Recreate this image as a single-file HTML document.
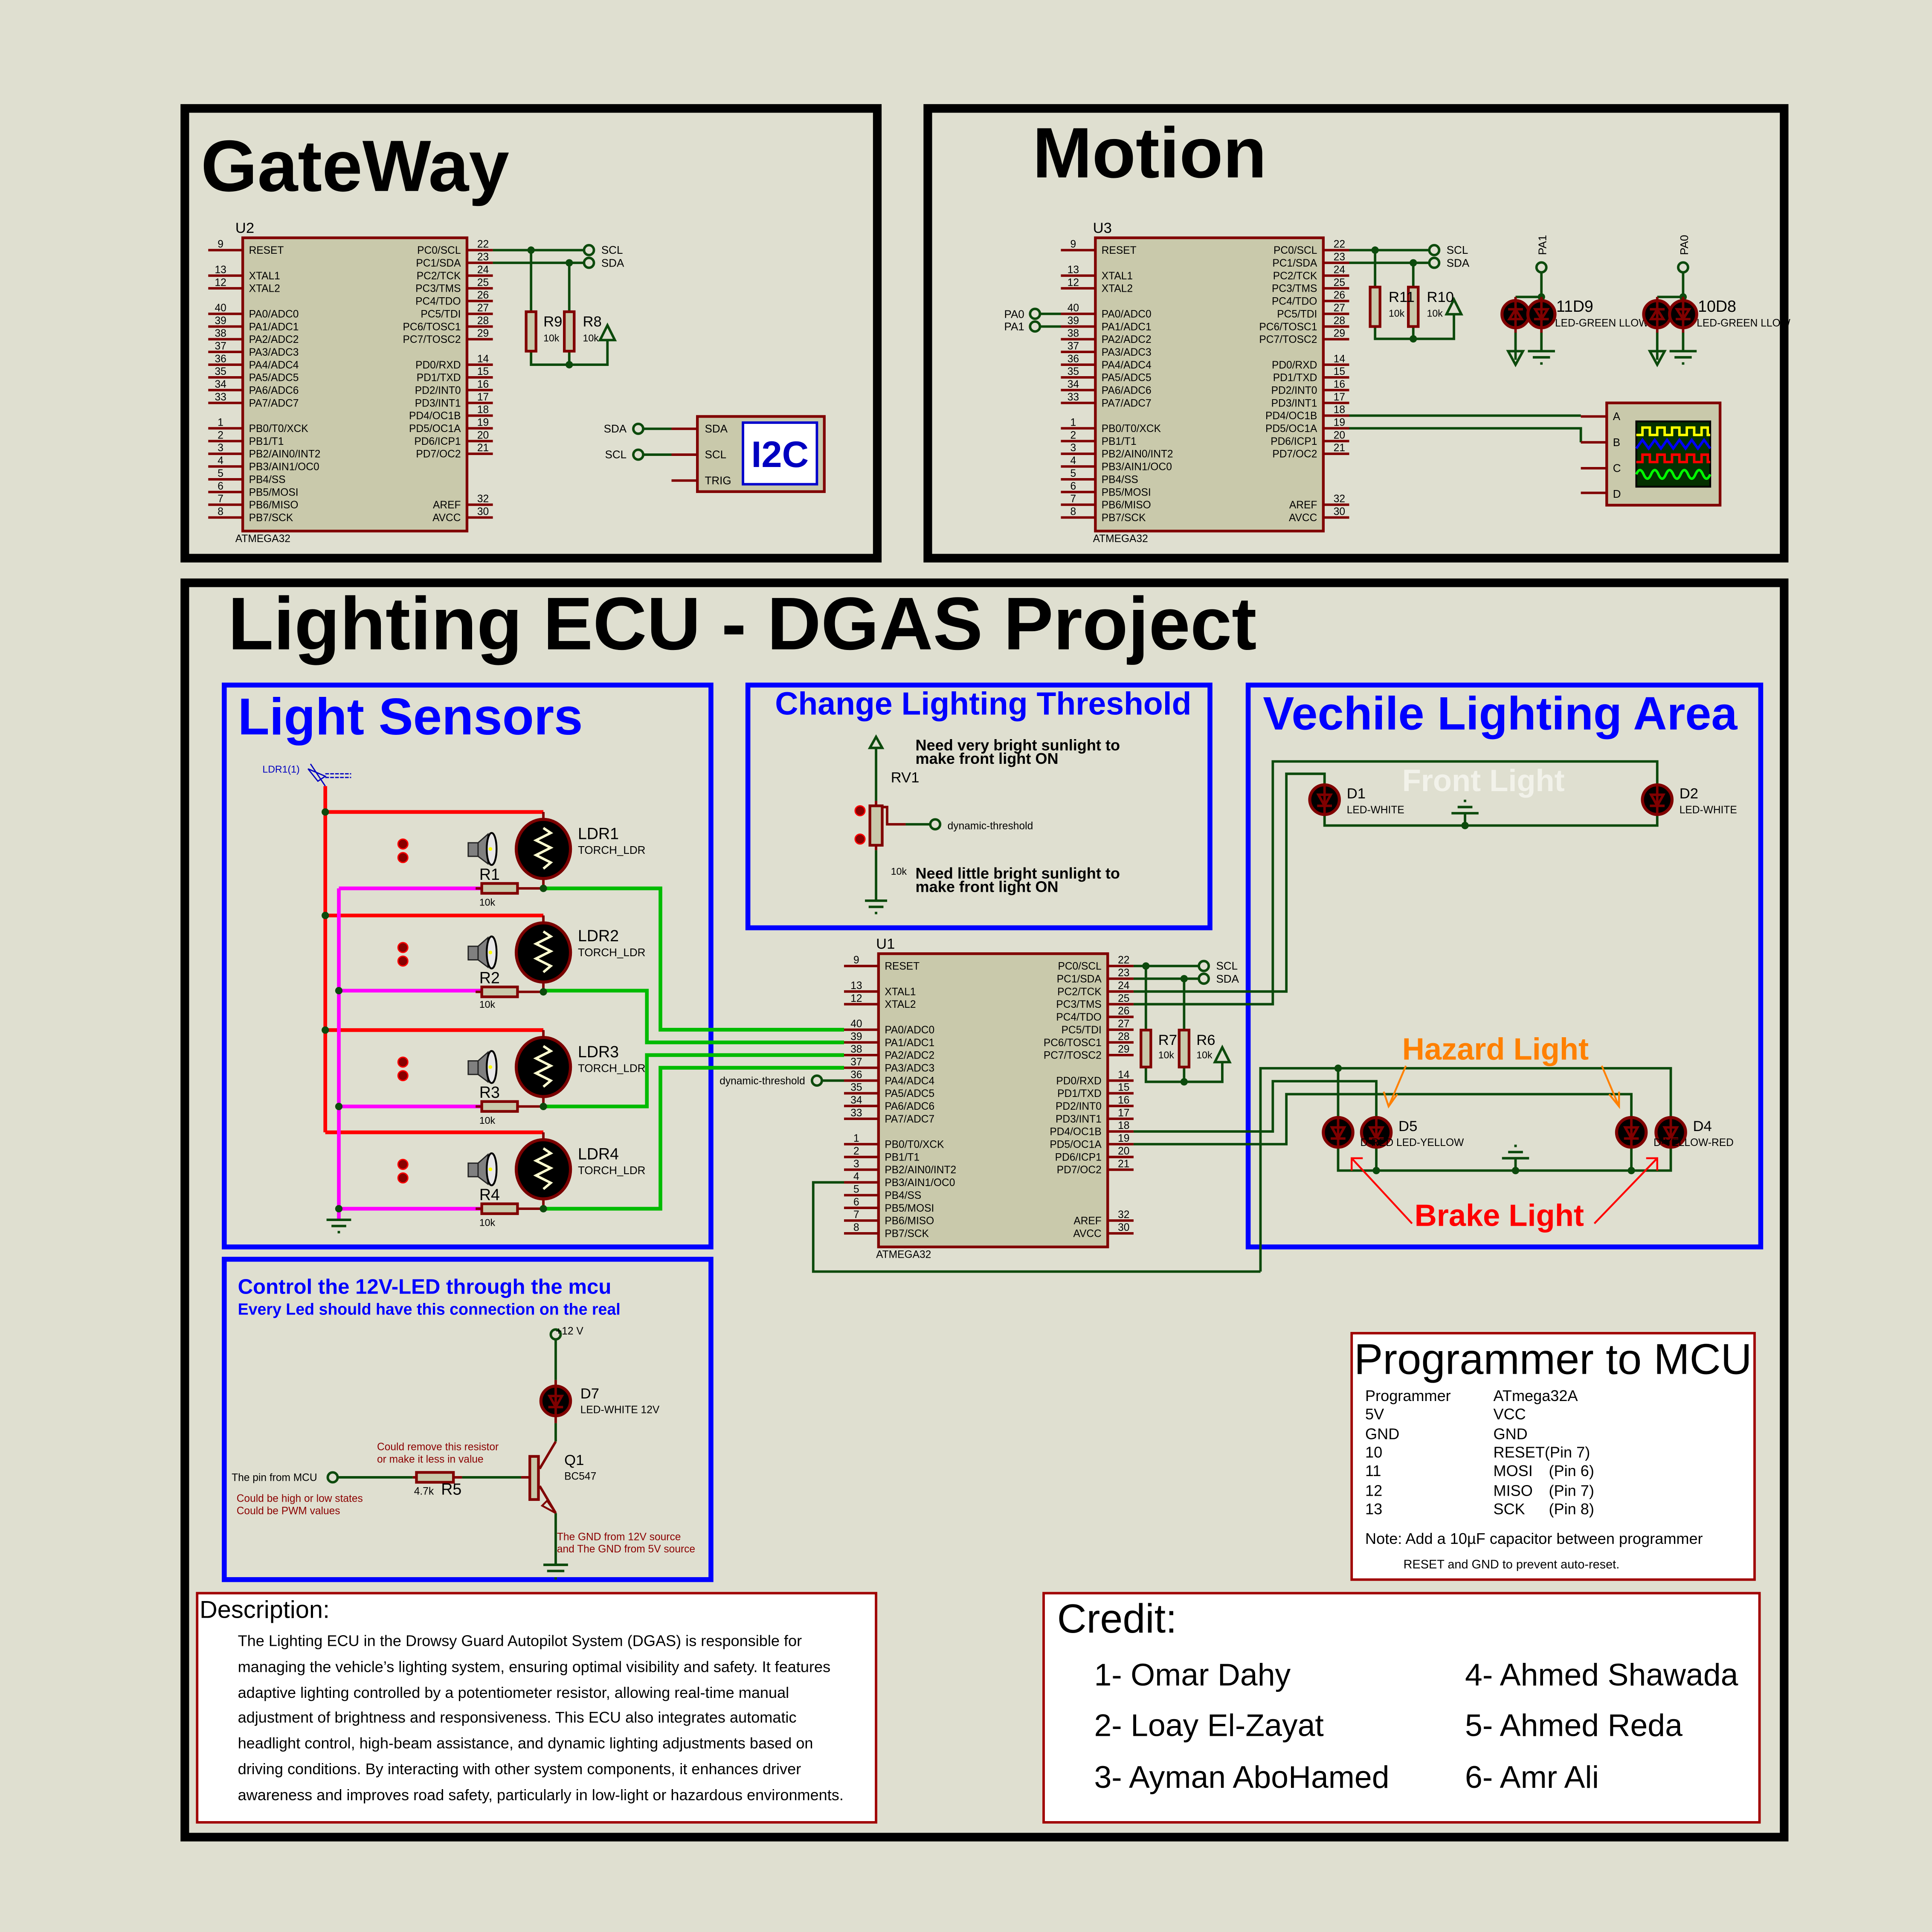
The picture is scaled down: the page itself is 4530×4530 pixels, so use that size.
<!DOCTYPE html>
<html><head><meta charset="utf-8"><style>
html,body{margin:0;padding:0;background:#dfdfd0}
svg{display:block}
text{font-family:"Liberation Sans",sans-serif}
.n{font-family:"Liberation Sans Narrow","Liberation Sans",sans-serif}
.p{stroke:#800000;stroke-width:2;fill:none}
.w{stroke:#0c4a0c;stroke-width:2;fill:none}
.body{fill:#c9c9ab;stroke:#800000;stroke-width:2.2}
</style></head><body>
<svg width="4530" height="4530" viewBox="0 0 1568 1568" xmlns="http://www.w3.org/2000/svg">
<rect width="1568" height="1568" fill="#dfdfd0"/>
<rect x="150" y="88" width="562" height="365" fill="none" stroke="#000" stroke-width="7"/>
<rect x="753" y="88" width="695" height="365" fill="none" stroke="#000" stroke-width="7"/>
<rect x="150" y="473" width="1298" height="1018" fill="none" stroke="#000" stroke-width="7"/>
<text x="163" y="155" font-size="59" font-weight="bold">GateWay</text>
<text x="838" y="144" font-size="58" font-weight="bold">Motion</text>
<text x="185" y="527" font-size="60.6" font-weight="bold">Lighting ECU - DGAS Project</text>

<g transform="translate(197,193)" class="n">
<rect class="body" x="0" y="0" width="182" height="238"/>
<path class="p" stroke-width="2.5" d="M-28 10H0M-28 30.7H0M-28 41H0M-28 61.7H0M-28 72H0M-28 82.3H0M-28 92.6H0M-28 103H0M-28 113.3H0M-28 123.6H0M-28 134H0M-28 154.6H0M-28 165H0M-28 175.3H0M-28 185.6H0M-28 196H0M-28 206.3H0M-28 216.6H0M-28 227H0M182 10H203M182 20.3H203M182 30.7H203M182 41H203M182 51.3H203M182 61.7H203M182 72H203M182 82.3H203M182 103H203M182 113.3H203M182 123.6H203M182 134H203M182 144.3H203M182 154.6H203M182 165H203M182 175.3H203M182 216.6H203M182 227H203"/>
<text font-size="8.5" x="5"><tspan x="5" y="13">RESET</tspan><tspan x="5" y="33.7">XTAL1</tspan><tspan x="5" y="44">XTAL2</tspan><tspan x="5" y="64.7">PA0/ADC0</tspan><tspan x="5" y="75">PA1/ADC1</tspan><tspan x="5" y="85.3">PA2/ADC2</tspan><tspan x="5" y="95.6">PA3/ADC3</tspan><tspan x="5" y="106">PA4/ADC4</tspan><tspan x="5" y="116.3">PA5/ADC5</tspan><tspan x="5" y="126.6">PA6/ADC6</tspan><tspan x="5" y="137">PA7/ADC7</tspan><tspan x="5" y="157.6">PB0/T0/XCK</tspan><tspan x="5" y="168">PB1/T1</tspan><tspan x="5" y="178.3">PB2/AIN0/INT2</tspan><tspan x="5" y="188.6">PB3/AIN1/OC0</tspan><tspan x="5" y="199">PB4/SS</tspan><tspan x="5" y="209.3">PB5/MOSI</tspan><tspan x="5" y="219.6">PB6/MISO</tspan><tspan x="5" y="230">PB7/SCK</tspan></text>
<text font-size="8.5" text-anchor="end"><tspan x="177" y="13">PC0/SCL</tspan><tspan x="177" y="23.3">PC1/SDA</tspan><tspan x="177" y="33.7">PC2/TCK</tspan><tspan x="177" y="44">PC3/TMS</tspan><tspan x="177" y="54.3">PC4/TDO</tspan><tspan x="177" y="64.7">PC5/TDI</tspan><tspan x="177" y="75">PC6/TOSC1</tspan><tspan x="177" y="85.3">PC7/TOSC2</tspan><tspan x="177" y="106">PD0/RXD</tspan><tspan x="177" y="116.3">PD1/TXD</tspan><tspan x="177" y="126.6">PD2/INT0</tspan><tspan x="177" y="137">PD3/INT1</tspan><tspan x="177" y="147.3">PD4/OC1B</tspan><tspan x="177" y="157.6">PD5/OC1A</tspan><tspan x="177" y="168">PD6/ICP1</tspan><tspan x="177" y="178.3">PD7/OC2</tspan><tspan x="177" y="219.6">AREF</tspan><tspan x="177" y="230">AVCC</tspan></text>
<text font-size="8.5" text-anchor="middle"><tspan x="-18" y="8">9</tspan><tspan x="-18" y="28.7">13</tspan><tspan x="-18" y="39">12</tspan><tspan x="-18" y="59.7">40</tspan><tspan x="-18" y="70">39</tspan><tspan x="-18" y="80.3">38</tspan><tspan x="-18" y="90.6">37</tspan><tspan x="-18" y="101">36</tspan><tspan x="-18" y="111.3">35</tspan><tspan x="-18" y="121.6">34</tspan><tspan x="-18" y="132">33</tspan><tspan x="-18" y="152.6">1</tspan><tspan x="-18" y="163">2</tspan><tspan x="-18" y="173.3">3</tspan><tspan x="-18" y="183.6">4</tspan><tspan x="-18" y="194">5</tspan><tspan x="-18" y="204.3">6</tspan><tspan x="-18" y="214.6">7</tspan><tspan x="-18" y="225">8</tspan></text>
<text font-size="8.5" text-anchor="middle"><tspan x="195" y="8">22</tspan><tspan x="195" y="18.3">23</tspan><tspan x="195" y="28.7">24</tspan><tspan x="195" y="39">25</tspan><tspan x="195" y="49.3">26</tspan><tspan x="195" y="59.7">27</tspan><tspan x="195" y="70">28</tspan><tspan x="195" y="80.3">29</tspan><tspan x="195" y="101">14</tspan><tspan x="195" y="111.3">15</tspan><tspan x="195" y="121.6">16</tspan><tspan x="195" y="132">17</tspan><tspan x="195" y="142.3">18</tspan><tspan x="195" y="152.6">19</tspan><tspan x="195" y="163">20</tspan><tspan x="195" y="173.3">21</tspan><tspan x="195" y="214.6">32</tspan><tspan x="195" y="225">30</tspan></text>
<text font-size="12" x="-6" y="-4">U2</text>
<text font-size="8.5" x="-6" y="247">ATMEGA32</text>
</g>

<g transform="translate(889,193)" class="n">
<rect class="body" x="0" y="0" width="185" height="238"/>
<path class="p" stroke-width="2.5" d="M-28 10H0M-28 30.7H0M-28 41H0M-28 61.7H0M-28 72H0M-28 82.3H0M-28 92.6H0M-28 103H0M-28 113.3H0M-28 123.6H0M-28 134H0M-28 154.6H0M-28 165H0M-28 175.3H0M-28 185.6H0M-28 196H0M-28 206.3H0M-28 216.6H0M-28 227H0M185 10H206M185 20.3H206M185 30.7H206M185 41H206M185 51.3H206M185 61.7H206M185 72H206M185 82.3H206M185 103H206M185 113.3H206M185 123.6H206M185 134H206M185 144.3H206M185 154.6H206M185 165H206M185 175.3H206M185 216.6H206M185 227H206"/>
<text font-size="8.5"><tspan x="5" y="13">RESET</tspan><tspan x="5" y="33.7">XTAL1</tspan><tspan x="5" y="44">XTAL2</tspan><tspan x="5" y="64.7">PA0/ADC0</tspan><tspan x="5" y="75">PA1/ADC1</tspan><tspan x="5" y="85.3">PA2/ADC2</tspan><tspan x="5" y="95.6">PA3/ADC3</tspan><tspan x="5" y="106">PA4/ADC4</tspan><tspan x="5" y="116.3">PA5/ADC5</tspan><tspan x="5" y="126.6">PA6/ADC6</tspan><tspan x="5" y="137">PA7/ADC7</tspan><tspan x="5" y="157.6">PB0/T0/XCK</tspan><tspan x="5" y="168">PB1/T1</tspan><tspan x="5" y="178.3">PB2/AIN0/INT2</tspan><tspan x="5" y="188.6">PB3/AIN1/OC0</tspan><tspan x="5" y="199">PB4/SS</tspan><tspan x="5" y="209.3">PB5/MOSI</tspan><tspan x="5" y="219.6">PB6/MISO</tspan><tspan x="5" y="230">PB7/SCK</tspan></text>
<text font-size="8.5" text-anchor="end"><tspan x="180" y="13">PC0/SCL</tspan><tspan x="180" y="23.3">PC1/SDA</tspan><tspan x="180" y="33.7">PC2/TCK</tspan><tspan x="180" y="44">PC3/TMS</tspan><tspan x="180" y="54.3">PC4/TDO</tspan><tspan x="180" y="64.7">PC5/TDI</tspan><tspan x="180" y="75">PC6/TOSC1</tspan><tspan x="180" y="85.3">PC7/TOSC2</tspan><tspan x="180" y="106">PD0/RXD</tspan><tspan x="180" y="116.3">PD1/TXD</tspan><tspan x="180" y="126.6">PD2/INT0</tspan><tspan x="180" y="137">PD3/INT1</tspan><tspan x="180" y="147.3">PD4/OC1B</tspan><tspan x="180" y="157.6">PD5/OC1A</tspan><tspan x="180" y="168">PD6/ICP1</tspan><tspan x="180" y="178.3">PD7/OC2</tspan><tspan x="180" y="219.6">AREF</tspan><tspan x="180" y="230">AVCC</tspan></text>
<text font-size="8.5" text-anchor="middle"><tspan x="-18" y="8">9</tspan><tspan x="-18" y="28.7">13</tspan><tspan x="-18" y="39">12</tspan><tspan x="-18" y="59.7">40</tspan><tspan x="-18" y="70">39</tspan><tspan x="-18" y="80.3">38</tspan><tspan x="-18" y="90.6">37</tspan><tspan x="-18" y="101">36</tspan><tspan x="-18" y="111.3">35</tspan><tspan x="-18" y="121.6">34</tspan><tspan x="-18" y="132">33</tspan><tspan x="-18" y="152.6">1</tspan><tspan x="-18" y="163">2</tspan><tspan x="-18" y="173.3">3</tspan><tspan x="-18" y="183.6">4</tspan><tspan x="-18" y="194">5</tspan><tspan x="-18" y="204.3">6</tspan><tspan x="-18" y="214.6">7</tspan><tspan x="-18" y="225">8</tspan></text>
<text font-size="8.5" text-anchor="middle"><tspan x="198" y="8">22</tspan><tspan x="198" y="18.3">23</tspan><tspan x="198" y="28.7">24</tspan><tspan x="198" y="39">25</tspan><tspan x="198" y="49.3">26</tspan><tspan x="198" y="59.7">27</tspan><tspan x="198" y="70">28</tspan><tspan x="198" y="80.3">29</tspan><tspan x="198" y="101">14</tspan><tspan x="198" y="111.3">15</tspan><tspan x="198" y="121.6">16</tspan><tspan x="198" y="132">17</tspan><tspan x="198" y="142.3">18</tspan><tspan x="198" y="152.6">19</tspan><tspan x="198" y="163">20</tspan><tspan x="198" y="173.3">21</tspan><tspan x="198" y="214.6">32</tspan><tspan x="198" y="225">30</tspan></text>
<text font-size="12" x="-2" y="-4">U3</text>
<text font-size="8.5" x="-2" y="247">ATMEGA32</text>
</g>

<g transform="translate(713,774)" class="n">
<rect class="body" x="0" y="0" width="186" height="238"/>
<path class="p" stroke-width="2.5" d="M-28 10H0M-28 30.7H0M-28 41H0M-28 61.7H0M-28 72H0M-28 82.3H0M-28 92.6H0M-28 103H0M-28 113.3H0M-28 123.6H0M-28 134H0M-28 154.6H0M-28 165H0M-28 175.3H0M-28 185.6H0M-28 196H0M-28 206.3H0M-28 216.6H0M-28 227H0M186 10H207M186 20.3H207M186 30.7H207M186 41H207M186 51.3H207M186 61.7H207M186 72H207M186 82.3H207M186 103H207M186 113.3H207M186 123.6H207M186 134H207M186 144.3H207M186 154.6H207M186 165H207M186 175.3H207M186 216.6H207M186 227H207"/>
<text font-size="8.5"><tspan x="5" y="13">RESET</tspan><tspan x="5" y="33.7">XTAL1</tspan><tspan x="5" y="44">XTAL2</tspan><tspan x="5" y="64.7">PA0/ADC0</tspan><tspan x="5" y="75">PA1/ADC1</tspan><tspan x="5" y="85.3">PA2/ADC2</tspan><tspan x="5" y="95.6">PA3/ADC3</tspan><tspan x="5" y="106">PA4/ADC4</tspan><tspan x="5" y="116.3">PA5/ADC5</tspan><tspan x="5" y="126.6">PA6/ADC6</tspan><tspan x="5" y="137">PA7/ADC7</tspan><tspan x="5" y="157.6">PB0/T0/XCK</tspan><tspan x="5" y="168">PB1/T1</tspan><tspan x="5" y="178.3">PB2/AIN0/INT2</tspan><tspan x="5" y="188.6">PB3/AIN1/OC0</tspan><tspan x="5" y="199">PB4/SS</tspan><tspan x="5" y="209.3">PB5/MOSI</tspan><tspan x="5" y="219.6">PB6/MISO</tspan><tspan x="5" y="230">PB7/SCK</tspan></text>
<text font-size="8.5" text-anchor="end"><tspan x="181" y="13">PC0/SCL</tspan><tspan x="181" y="23.3">PC1/SDA</tspan><tspan x="181" y="33.7">PC2/TCK</tspan><tspan x="181" y="44">PC3/TMS</tspan><tspan x="181" y="54.3">PC4/TDO</tspan><tspan x="181" y="64.7">PC5/TDI</tspan><tspan x="181" y="75">PC6/TOSC1</tspan><tspan x="181" y="85.3">PC7/TOSC2</tspan><tspan x="181" y="106">PD0/RXD</tspan><tspan x="181" y="116.3">PD1/TXD</tspan><tspan x="181" y="126.6">PD2/INT0</tspan><tspan x="181" y="137">PD3/INT1</tspan><tspan x="181" y="147.3">PD4/OC1B</tspan><tspan x="181" y="157.6">PD5/OC1A</tspan><tspan x="181" y="168">PD6/ICP1</tspan><tspan x="181" y="178.3">PD7/OC2</tspan><tspan x="181" y="219.6">AREF</tspan><tspan x="181" y="230">AVCC</tspan></text>
<text font-size="8.5" text-anchor="middle"><tspan x="-18" y="8">9</tspan><tspan x="-18" y="28.7">13</tspan><tspan x="-18" y="39">12</tspan><tspan x="-18" y="59.7">40</tspan><tspan x="-18" y="70">39</tspan><tspan x="-18" y="80.3">38</tspan><tspan x="-18" y="90.6">37</tspan><tspan x="-18" y="101">36</tspan><tspan x="-18" y="111.3">35</tspan><tspan x="-18" y="121.6">34</tspan><tspan x="-18" y="132">33</tspan><tspan x="-18" y="152.6">1</tspan><tspan x="-18" y="163">2</tspan><tspan x="-18" y="173.3">3</tspan><tspan x="-18" y="183.6">4</tspan><tspan x="-18" y="194">5</tspan><tspan x="-18" y="204.3">6</tspan><tspan x="-18" y="214.6">7</tspan><tspan x="-18" y="225">8</tspan></text>
<text font-size="8.5" text-anchor="middle"><tspan x="199" y="8">22</tspan><tspan x="199" y="18.3">23</tspan><tspan x="199" y="28.7">24</tspan><tspan x="199" y="39">25</tspan><tspan x="199" y="49.3">26</tspan><tspan x="199" y="59.7">27</tspan><tspan x="199" y="70">28</tspan><tspan x="199" y="80.3">29</tspan><tspan x="199" y="101">14</tspan><tspan x="199" y="111.3">15</tspan><tspan x="199" y="121.6">16</tspan><tspan x="199" y="132">17</tspan><tspan x="199" y="142.3">18</tspan><tspan x="199" y="152.6">19</tspan><tspan x="199" y="163">20</tspan><tspan x="199" y="173.3">21</tspan><tspan x="199" y="214.6">32</tspan><tspan x="199" y="225">30</tspan></text>
<text font-size="12" x="-2" y="-4">U1</text>
<text font-size="8.5" x="-2" y="247">ATMEGA32</text>
</g>

<g class="n">
<path class="w" d="M400 203H474M400 213.3H474M431 203V253M462 213.3V253M431 285V296H493V276M462 285V296"/>
<path class="w" d="M487 276L493 264L499 276Z"/>
<circle cx="478" cy="203" r="4" fill="none" stroke="#0c4a0c" stroke-width="2"/>
<circle cx="478" cy="213.3" r="4" fill="none" stroke="#0c4a0c" stroke-width="2"/>
<circle cx="431" cy="203" r="3" fill="#0c4a0c"/><circle cx="462" cy="213.3" r="3" fill="#0c4a0c"/><circle cx="462" cy="296" r="3" fill="#0c4a0c"/>
<rect x="427" y="253" width="8" height="32" class="body"/><rect x="458" y="253" width="8" height="32" class="body"/>
<text font-size="12" x="441" y="265">R9</text><text font-size="8" x="441" y="277">10k</text>
<text font-size="12" x="473" y="265">R8</text><text font-size="8" x="473" y="277">10k</text>
<text font-size="9" x="488" y="206">SCL</text><text font-size="9" x="488" y="216.5">SDA</text>
<path class="w" d="M522 348H545M522 369H545"/>
<circle cx="518" cy="348" r="4" fill="none" stroke="#0c4a0c" stroke-width="2"/>
<circle cx="518" cy="369" r="4" fill="none" stroke="#0c4a0c" stroke-width="2"/>
<text font-size="9" x="490" y="351">SDA</text><text font-size="9" x="491" y="372">SCL</text>
<path class="p" d="M545 348H566M545 369H566M545 390H566"/>
<rect x="566" y="338" width="103" height="61" class="body"/>
<rect x="603" y="343" width="60" height="50" fill="#fff" stroke="#0000cc" stroke-width="2"/>
<text x="633" y="379" font-size="30" font-weight="bold" fill="#0000c0" text-anchor="middle" font-family="Liberation Sans">I2C</text>
<text font-size="9" x="572" y="351">SDA</text><text font-size="9" x="572" y="372">SCL</text><text font-size="9" x="572" y="393">TRIG</text>
</g>

<g class="n">
<path class="w" d="M1095 203H1160M1095 213.3H1160M1116 203V233M1147 213.3V233M1116 265V275H1180V255M1147 265V275"/>
<path class="w" d="M1174 255L1180 243L1186 255Z"/>
<circle cx="1164" cy="203" r="4" fill="none" stroke="#0c4a0c" stroke-width="2"/>
<circle cx="1164" cy="213.3" r="4" fill="none" stroke="#0c4a0c" stroke-width="2"/>
<circle cx="1116" cy="203" r="3" fill="#0c4a0c"/><circle cx="1147" cy="213.3" r="3" fill="#0c4a0c"/><circle cx="1147" cy="275" r="3" fill="#0c4a0c"/>
<rect x="1112" y="233" width="8" height="32" class="body"/><rect x="1143" y="233" width="8" height="32" class="body"/>
<text font-size="12" x="1127" y="245">R11</text><text font-size="8" x="1127" y="257">10k</text>
<text font-size="12" x="1158" y="245">R10</text><text font-size="8" x="1158" y="257">10k</text>
<text font-size="9" x="1174" y="206">SCL</text><text font-size="9" x="1174" y="216.5">SDA</text>
<path class="w" d="M844 254.7H861M844 265H861"/>
<circle cx="840" cy="254.7" r="4" fill="none" stroke="#0c4a0c" stroke-width="2"/>
<circle cx="840" cy="265" r="4" fill="none" stroke="#0c4a0c" stroke-width="2"/>
<text font-size="9" x="815" y="258">PA0</text><text font-size="9" x="815" y="268">PA1</text>
<g>
<path class="w" d="M1251 221V241M1230 241H1251M1230 270V292M1251 270V285M1240 285H1262M1244 290H1258M1250 295H1252"/>
<path class="w" d="M1224 285L1230 296L1236 285Z"/>
<circle cx="1251" cy="217" r="4" fill="none" stroke="#0c4a0c" stroke-width="2"/>
<circle cx="1251" cy="241" r="3" fill="#0c4a0c"/>
<circle cx="1230" cy="255" r="11" fill="#000" stroke="#800000" stroke-width="2.5"/>
<circle cx="1251" cy="255" r="11" fill="#000" stroke="#800000" stroke-width="2.5"/>
<path class="p" d="M1230 241V270M1225 259L1230 251L1235 259ZM1224 251H1236M1251 241V270M1246 251L1251 259L1256 251ZM1245 259H1257"/>
</g>
<text font-size="9" transform="translate(1255,207) rotate(-90)">PA1</text>
<text font-size="13" x="1263" y="253">11D9</text><text font-size="8.5" x="1262" y="265">LED-GREEN LLOW</text>
<g transform="translate(115,0)">
<path class="w" d="M1251 221V241M1230 241H1251M1230 270V292M1251 270V285M1240 285H1262M1244 290H1258M1250 295H1252"/>
<path class="w" d="M1224 285L1230 296L1236 285Z"/>
<circle cx="1251" cy="217" r="4" fill="none" stroke="#0c4a0c" stroke-width="2"/>
<circle cx="1251" cy="241" r="3" fill="#0c4a0c"/>
<circle cx="1230" cy="255" r="11" fill="#000" stroke="#800000" stroke-width="2.5"/>
<circle cx="1251" cy="255" r="11" fill="#000" stroke="#800000" stroke-width="2.5"/>
<path class="p" d="M1230 241V270M1225 259L1230 251L1235 259ZM1224 251H1236M1251 241V270M1246 251L1251 259L1256 251ZM1245 259H1257"/>
</g>
<text font-size="9" transform="translate(1370,207) rotate(-90)">PA0</text>
<text font-size="13" x="1378" y="253">10D8</text><text font-size="8.5" x="1377" y="265">LED-GREEN LLOW</text>
<path class="w" d="M1095 337.3H1283M1095 347.6H1283V359"/>
<path class="p" d="M1283 338H1304M1283 359H1304M1283 380H1304M1283 400H1304"/>
<rect x="1304" y="327" width="92" height="83" class="body"/>
<rect x="1328" y="342" width="60" height="53" fill="#033000" stroke="#000" stroke-width="1.5"/>
<path d="M1328 353H1333V347H1339V353H1345V347H1351V353H1357V347H1363V353H1369V347H1375V353H1381V347H1386V353H1388" stroke="#ff0" stroke-width="2" fill="none"/>
<path d="M1328 364L1333 357L1338 364L1343 357L1348 364L1353 357L1358 364L1363 357L1368 364L1373 357L1378 364L1383 357L1388 364" stroke="#00f" stroke-width="2" fill="none"/>
<path d="M1328 375H1333V369H1339V375H1345V369H1351V375H1357V369H1363V375H1369V369H1375V375H1381V369H1386V375H1388" stroke="#f00" stroke-width="2" fill="none"/>
<path d="M1328 385Q1331 378 1334 385T1340 385T1346 385T1352 385T1358 385T1364 385T1370 385T1376 385T1382 385T1388 385" stroke="#0f0" stroke-width="2" fill="none"/>
<text font-size="9" x="1309" y="341">A</text><text font-size="9" x="1309" y="362">B</text><text font-size="9" x="1309" y="383">C</text><text font-size="9" x="1309" y="404">D</text>
</g>

<g fill="none" stroke="#0000ff" stroke-width="4">
<rect x="182" y="556" width="395" height="456"/>
<rect x="607" y="556" width="375" height="197"/>
<rect x="1013" y="556" width="416" height="456"/>
<rect x="182" y="1022" width="395" height="260"/>
</g>
<text x="193" y="596" font-size="42" font-weight="bold" fill="#0000ff">Light Sensors</text>
<text x="629" y="580" font-size="26" font-weight="bold" fill="#0000ff">Change Lighting Threshold</text>
<text x="1025" y="592" font-size="38" font-weight="bold" fill="#0000ff">Vechile Lighting Area</text>
<text x="193" y="1050" font-size="17" font-weight="bold" fill="#0000ff">Control the 12V-LED through the mcu</text>
<text x="193" y="1067" font-size="13" font-weight="bold" fill="#0000ff">Every Led should have this connection on the real</text>

<g class="n">
<text x="213" y="627" font-size="8" fill="#0000c0">LDR1(1)</text>
<path d="M250 624L258 634L264 630ZM264 638L252 620" stroke="#0000c0" stroke-width="1" fill="none"/>
<path d="M264 631H285M264 628H285" stroke="#0000c0" stroke-width="1" stroke-dasharray="3,1" fill="none"/>
<path d="M264 638V919M264 659H441M264 743H441M264 836H441M264 919H441" stroke="#ff0000" stroke-width="3" fill="none"/>
<path d="M275 721V990M275 721H390M275 804H390M275 898H390M275 981H390" stroke="#ff00ff" stroke-width="3" fill="none"/>
<path d="M441 721H536V835.7H685M441 804H525V846H685M441 898H525V856.3H685M441 981H536V866.6H685" stroke="#00bb00" stroke-width="3" fill="none"/>
<path class="w" d="M265 990H285M269 995H281M274 1000H276"/>
<g>
<path class="p" d="M441 659V665M441 713V721M420 721H441"/>
<ellipse cx="441" cy="689" rx="22" ry="24" fill="#000" stroke="#7a0000" stroke-width="2.5"/>
<path d="M441 672L447 676L435 682L447 688L435 694L447 700L441 705" stroke="#ffffd0" stroke-width="2" fill="none"/>
<rect x="391" y="717" width="29" height="8" class="body"/>
<path class="p" d="M386 721H391"/>
<rect x="380" y="684" width="8" height="11" fill="#808080" stroke="#222" stroke-width="1"/>
<path d="M388 684L396 677V701L388 695Z" fill="#808080" stroke="#222" stroke-width="1"/>
<ellipse cx="399" cy="689" rx="4" ry="13" fill="#e8e8e8" stroke="#000" stroke-width="1.5"/>
<circle cx="398" cy="689" r="1.5" fill="#ff0"/>
<circle cx="327" cy="685" r="4" fill="#800" stroke="#f00" stroke-width="1"/>
<circle cx="327" cy="696" r="4" fill="#800" stroke="#f00" stroke-width="1"/>
<circle cx="441" cy="721" r="3" fill="#0c4a0c"/>
</g>
<g transform="translate(0,84)"><path class="p" d="M441 659V665M441 713V721M420 721H441"/><ellipse cx="441" cy="689" rx="22" ry="24" fill="#000" stroke="#7a0000" stroke-width="2.5"/><path d="M441 672L447 676L435 682L447 688L435 694L447 700L441 705" stroke="#ffffd0" stroke-width="2" fill="none"/><rect x="391" y="717" width="29" height="8" class="body"/><path class="p" d="M386 721H391"/><rect x="380" y="684" width="8" height="11" fill="#808080" stroke="#222" stroke-width="1"/><path d="M388 684L396 677V701L388 695Z" fill="#808080" stroke="#222" stroke-width="1"/><ellipse cx="399" cy="689" rx="4" ry="13" fill="#e8e8e8" stroke="#000" stroke-width="1.5"/><circle cx="398" cy="689" r="1.5" fill="#ff0"/><circle cx="327" cy="685" r="4" fill="#800" stroke="#f00" stroke-width="1"/><circle cx="327" cy="696" r="4" fill="#800" stroke="#f00" stroke-width="1"/><circle cx="441" cy="721" r="3" fill="#0c4a0c"/></g>
<g transform="translate(0,177)"><path class="p" d="M441 659V665M441 713V721M420 721H441"/><ellipse cx="441" cy="689" rx="22" ry="24" fill="#000" stroke="#7a0000" stroke-width="2.5"/><path d="M441 672L447 676L435 682L447 688L435 694L447 700L441 705" stroke="#ffffd0" stroke-width="2" fill="none"/><rect x="391" y="717" width="29" height="8" class="body"/><path class="p" d="M386 721H391"/><rect x="380" y="684" width="8" height="11" fill="#808080" stroke="#222" stroke-width="1"/><path d="M388 684L396 677V701L388 695Z" fill="#808080" stroke="#222" stroke-width="1"/><ellipse cx="399" cy="689" rx="4" ry="13" fill="#e8e8e8" stroke="#000" stroke-width="1.5"/><circle cx="398" cy="689" r="1.5" fill="#ff0"/><circle cx="327" cy="685" r="4" fill="#800" stroke="#f00" stroke-width="1"/><circle cx="327" cy="696" r="4" fill="#800" stroke="#f00" stroke-width="1"/><circle cx="441" cy="721" r="3" fill="#0c4a0c"/></g>
<g transform="translate(0,260)"><path class="p" d="M441 659V665M441 713V721M420 721H441"/><ellipse cx="441" cy="689" rx="22" ry="24" fill="#000" stroke="#7a0000" stroke-width="2.5"/><path d="M441 672L447 676L435 682L447 688L435 694L447 700L441 705" stroke="#ffffd0" stroke-width="2" fill="none"/><rect x="391" y="717" width="29" height="8" class="body"/><path class="p" d="M386 721H391"/><rect x="380" y="684" width="8" height="11" fill="#808080" stroke="#222" stroke-width="1"/><path d="M388 684L396 677V701L388 695Z" fill="#808080" stroke="#222" stroke-width="1"/><ellipse cx="399" cy="689" rx="4" ry="13" fill="#e8e8e8" stroke="#000" stroke-width="1.5"/><circle cx="398" cy="689" r="1.5" fill="#ff0"/><circle cx="327" cy="685" r="4" fill="#800" stroke="#f00" stroke-width="1"/><circle cx="327" cy="696" r="4" fill="#800" stroke="#f00" stroke-width="1"/><circle cx="441" cy="721" r="3" fill="#0c4a0c"/></g>
<g fill="#0c4a0c"><circle cx="264" cy="659" r="3"/><circle cx="264" cy="743" r="3"/><circle cx="264" cy="836" r="3"/><circle cx="275" cy="804" r="3"/><circle cx="275" cy="898" r="3"/><circle cx="275" cy="981" r="3"/></g>
<text font-size="13" x="469" y="681">LDR1</text><text font-size="9" x="469" y="693">TORCH_LDR</text>
<text font-size="13" x="469" y="764">LDR2</text><text font-size="9" x="469" y="776">TORCH_LDR</text>
<text font-size="13" x="469" y="858">LDR3</text><text font-size="9" x="469" y="870">TORCH_LDR</text>
<text font-size="13" x="469" y="941">LDR4</text><text font-size="9" x="469" y="953">TORCH_LDR</text>
<text font-size="13" x="389" y="714">R1</text><text font-size="8" x="389" y="735">10k</text>
<text font-size="13" x="389" y="798">R2</text><text font-size="8" x="389" y="818">10k</text>
<text font-size="13" x="389" y="891">R3</text><text font-size="8" x="389" y="912">10k</text>
<text font-size="13" x="389" y="974">R4</text><text font-size="8" x="389" y="995">10k</text>
</g>

<g class="n">
<path class="w" d="M711 607V650M711 690V730M702 731H720M705 736H717M710 741H712"/>
<path class="w" d="M706 607L711 598L716 607Z"/>
<path class="p" d="M711 650V654M711 686V690M717 655H720V669H735"/>
<rect x="706" y="654" width="10" height="32" class="body"/>
<path class="w" d="M735 669H755"/>
<circle cx="759" cy="669" r="4" fill="none" stroke="#0c4a0c" stroke-width="2"/>
<circle cx="698" cy="658" r="4" fill="#800" stroke="#f00"/><circle cx="698" cy="681" r="4" fill="#800" stroke="#f00"/>
<text font-size="8.5" x="769" y="673">dynamic-threshold</text>
<text font-size="12" x="723" y="635">RV1</text>
<text font-size="8" x="723" y="710">10k</text>
<text font-size="12.5" font-weight="bold" x="743" y="609">Need very bright sunlight to</text>
<text font-size="12.5" font-weight="bold" x="743" y="620">make front light ON</text>
<text font-size="12.5" font-weight="bold" x="743" y="713">Need little bright sunlight to</text>
<text font-size="12.5" font-weight="bold" x="743" y="724">make front light ON</text>
</g>

<g class="n">
<path class="w" d="M920 784H973M920 794.3H973M930 784V836M961 794.3V836M930 866V878H992V862M961 866V878"/>
<path class="w" d="M986 862L992 850L998 862Z"/>
<circle cx="977" cy="784" r="4" fill="none" stroke="#0c4a0c" stroke-width="2"/>
<circle cx="977" cy="794.3" r="4" fill="none" stroke="#0c4a0c" stroke-width="2"/>
<circle cx="930" cy="784" r="3" fill="#0c4a0c"/><circle cx="961" cy="794.3" r="3" fill="#0c4a0c"/><circle cx="961" cy="878" r="3" fill="#0c4a0c"/>
<rect x="926" y="836" width="8" height="30" class="body"/><rect x="957" y="836" width="8" height="30" class="body"/>
<text font-size="12" x="940" y="848">R7</text><text font-size="8" x="940" y="859">10k</text>
<text font-size="12" x="971" y="848">R6</text><text font-size="8" x="971" y="859">10k</text>
<text font-size="9" x="987" y="787">SCL</text><text font-size="9" x="987" y="797.5">SDA</text>
<path class="w" d="M667 877H685"/>
<circle cx="663" cy="877" r="4" fill="none" stroke="#0c4a0c" stroke-width="2"/>
<text font-size="8.5" x="584" y="880">dynamic-threshold</text>
<path class="w" d="M920 804.7H1044V628H1075V638M920 815H1033V618H1345V638M1075 660V670H1345V660M1189 670V660M1178 660H1200M1183 655H1195M1188 650H1190"/>
<circle cx="1189" cy="670" r="3" fill="#0c4a0c"/>
<path class="w" d="M920 918.3H1033V877.5H1117V907M920 928.6H1044V888H1324V907M1023 1032V867H1356V907M1086 867V907M1086 931V950H1356V931M1117 931V950M1324 931V950M1230 950V940M1219 940H1241M1224 935H1236M1229 930H1231M685 959.6H660V1032H1023"/>
<g fill="#0c4a0c"><circle cx="1086" cy="867" r="3"/><circle cx="1117" cy="950" r="3"/><circle cx="1230" cy="950" r="3"/><circle cx="1324" cy="950" r="3"/></g>
<g>
<circle cx="1075" cy="649" r="12" fill="#000" stroke="#800000" stroke-width="2.5"/>
<circle cx="1345" cy="649" r="12" fill="#000" stroke="#800000" stroke-width="2.5"/>
<circle cx="1086" cy="919" r="12" fill="#000" stroke="#800000" stroke-width="2.5"/>
<circle cx="1117" cy="919" r="12" fill="#000" stroke="#800000" stroke-width="2.5"/>
<circle cx="1324" cy="919" r="12" fill="#000" stroke="#800000" stroke-width="2.5"/>
<circle cx="1356" cy="919" r="12" fill="#000" stroke="#800000" stroke-width="2.5"/>
<circle cx="451" cy="1137" r="12" fill="#000" stroke="#800000" stroke-width="2.5"/>
<path class="p" d="M1075 637V661M1070 645L1075 654L1080 645ZM1069 654H1081M1345 637V661M1340 645L1345 654L1350 645ZM1339 654H1351M1086 907V931M1081 915L1086 924L1091 915ZM1080 924H1092M1117 907V931M1112 915L1117 924L1122 915ZM1111 924H1123M1324 907V931M1319 915L1324 924L1329 915ZM1318 924H1330M1356 907V931M1351 915L1356 924L1361 915ZM1350 924H1362M451 1125V1149M446 1133L451 1142L456 1133ZM445 1142H457"/>
</g>
<text font-size="12" x="1093" y="648">D1</text><text font-size="8.5" x="1093" y="660">LED-WHITE</text>
<text font-size="12" x="1363" y="648">D2</text><text font-size="8.5" x="1363" y="660">LED-WHITE</text>
<text font-size="12" x="1135" y="918">D5</text><text font-size="8.5" x="1104" y="930">D-RED LED-YELLOW</text>
<text font-size="12" x="1374" y="918">D4</text><text font-size="8.5" x="1342" y="930">D-YELLOW-RED</text>
</g>
<text x="1138" y="642" font-size="25" font-weight="bold" fill="#f2f2ea">Front Light</text>
<text x="1138" y="860" font-size="25" font-weight="bold" fill="#ff8000">Hazard Light</text>
<text x="1148" y="995" font-size="25" font-weight="bold" fill="#ff0000">Brake Light</text>
<path d="M1141 865L1127 898M1123 886L1127 898L1134 888M1300 865L1314 898M1306 888L1314 898L1314 886" stroke="#ff8000" stroke-width="1.5" fill="none"/>
<path d="M1146 993L1097 940M1097 950V940H1106M1294 993L1345 940M1345 950V940H1336" stroke="#ff0000" stroke-width="1.5" fill="none"/>

<g class="n">
<path class="w" d="M451 1087V1120M451 1155V1170M274 1199H335M375 1199H423M451 1228V1270M441 1270H461M444 1275H458M450 1281H452"/>
<path class="p" d="M451 1120V1125M451 1149V1155M335 1199H338M368 1199H375M423 1199H430M438 1192L451 1170M438 1206L451 1228"/>
<path d="M444 1218L451 1228L440 1222Z" fill="none" stroke="#800000" stroke-width="1.5"/>
<rect x="430" y="1182" width="7" height="35" class="body"/>
<rect x="338" y="1195" width="30" height="8" class="body"/>
<circle cx="451" cy="1083" r="4" fill="none" stroke="#0c4a0c" stroke-width="2"/>
<circle cx="270" cy="1199" r="4" fill="none" stroke="#0c4a0c" stroke-width="2"/>
<text font-size="8.5" x="451" y="1083">+12 V</text>
<text font-size="12" x="471" y="1135">D7</text><text font-size="8.5" x="471" y="1147">LED-WHITE 12V</text>
<text font-size="12" x="458" y="1189">Q1</text><text font-size="8.5" x="458" y="1201">BC547</text>
<text font-size="8.5" x="188" y="1202">The pin from MCU</text>
<text font-size="8.5" x="336" y="1213">4.7k</text><text font-size="13" x="358" y="1213">R5</text>
<g fill="#8b0000" font-size="8.5"><text x="306" y="1177">Could remove this resistor</text><text x="306" y="1187">or make it less in value</text><text x="192" y="1219">Could be high or low states</text><text x="192" y="1229">Could be PWM values</text><text x="452" y="1250">The GND from 12V source</text><text x="452" y="1260">and The GND from 5V source</text></g>
</g>

<rect x="1097" y="1082" width="327" height="200" fill="#fff" stroke="#a00000" stroke-width="2"/>
<text x="1099" y="1115" font-size="35">Programmer to MCU</text>
<g font-size="12.5"><text x="1108" y="1137">Programmer</text><text x="1212" y="1137">ATmega32A</text>
<text x="1108" y="1152">5V</text><text x="1212" y="1152">VCC</text>
<text x="1108" y="1168">GND</text><text x="1212" y="1168">GND</text>
<text x="1108" y="1183">10</text><text x="1212" y="1183">RESET(Pin 7)</text>
<text x="1108" y="1198">11</text><text x="1212" y="1198">MOSI</text><text x="1257" y="1198">(Pin 6)</text>
<text x="1108" y="1214">12</text><text x="1212" y="1214">MISO</text><text x="1257" y="1214">(Pin 7)</text>
<text x="1108" y="1229">13</text><text x="1212" y="1229">SCK</text><text x="1257" y="1229">(Pin 8)</text>
<text x="1108" y="1253">Note: Add a 10µF capacitor between programmer</text></g>
<text x="1139" y="1273" font-size="10">RESET and GND to prevent auto-reset.</text>

<rect x="160" y="1293" width="551" height="186" fill="#fff" stroke="#a00000" stroke-width="2"/>
<text x="162" y="1313" font-size="20">Description:</text>
<g font-size="12.5"><text x="193" y="1336">The Lighting ECU in the Drowsy Guard Autopilot System (DGAS) is responsible for</text>
<text x="193" y="1357">managing the vehicle’s lighting system, ensuring optimal visibility and safety. It features</text>
<text x="193" y="1378">adaptive lighting controlled by a potentiometer resistor, allowing real-time manual</text>
<text x="193" y="1398">adjustment of brightness and responsiveness. This ECU also integrates automatic</text>
<text x="193" y="1419">headlight control, high-beam assistance, and dynamic lighting adjustments based on</text>
<text x="193" y="1440">driving conditions. By interacting with other system components, it enhances driver</text>
<text x="193" y="1461">awareness and improves road safety, particularly in low-light or hazardous environments.</text></g>

<rect x="847" y="1293" width="581" height="186" fill="#fff" stroke="#a00000" stroke-width="2"/>
<text x="858" y="1325" font-size="33">Credit:</text>
<g font-size="25.4"><text x="888" y="1368">1- Omar Dahy</text><text x="888" y="1409">2- Loay El-Zayat</text><text x="888" y="1451">3- Ayman AboHamed</text>
<text x="1189" y="1368">4- Ahmed Shawada</text><text x="1189" y="1409">5- Ahmed Reda</text><text x="1189" y="1451">6- Amr Ali</text></g>
</svg>
</body></html>
